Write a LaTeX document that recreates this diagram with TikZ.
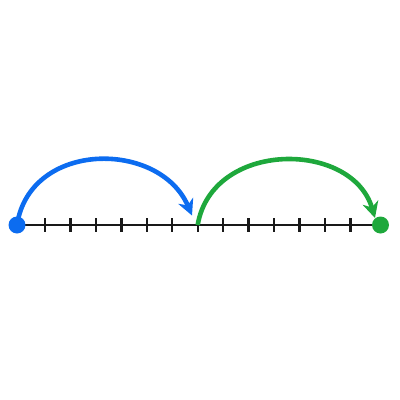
\documentclass[tikz,border=0pt]{standalone}
\usetikzlibrary{arrows.meta,calc}
\definecolor{jblue}{RGB}{12,108,240}
\definecolor{jgreen}{RGB}{30,168,60}
\begin{document}
\begin{tikzpicture}[x=1pt,y=-1pt,
  axis/.style={line width=2.6pt,black!90},
  tickmark/.style={line width=2.4pt,black!90},
  hop/.style={line width=4.6pt,-{Stealth[length=16pt,width=16pt,inset=5pt]}},
  dotmark/.style={circle,inner sep=0pt,minimum size=17pt}]
\useasboundingbox (0,0) rectangle (400,400);
\coordinate (L) at (17,225);
\coordinate (R) at (380.5,225);
\coordinate (M) at (197.7,225);
\draw[axis] (L) -- (R);
\foreach \k in {-6,...,6} {
  \draw[tickmark] ($(M)+(\k*25.45,-7)$) -- ($(M)+(\k*25.45,7)$);
}
\node[dotmark,fill=jblue] (a) at (L) {};
\node[dotmark,fill=jgreen] (b) at (R) {};
\coordinate (bt) at (192,215.5);
\coordinate (gt) at (375,218);
\draw[hop,jblue] (L) .. controls (30,140) and (160,140) .. (bt);
\draw[hop,jgreen] (M) .. controls (212,140) and (352,140) .. (gt);
\end{tikzpicture}
\end{document}
